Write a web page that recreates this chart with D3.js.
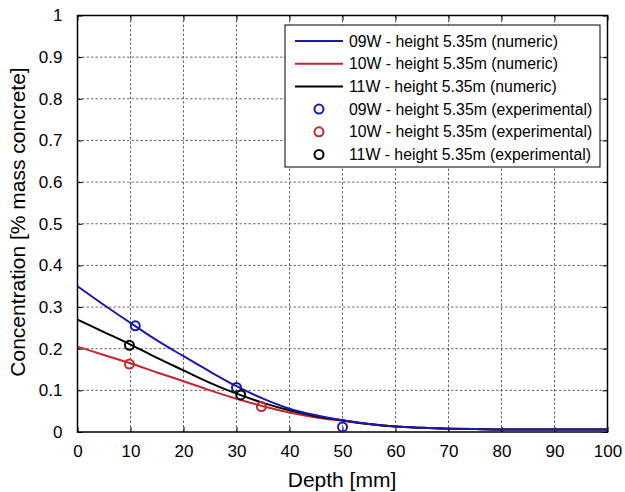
<!DOCTYPE html>
<html>
<head>
<meta charset="utf-8">
<script src="https://cdn.jsdelivr.net/npm/d3@7"></script>
<style>
body{margin:0;background:#fff;}
text{font-family:"Liberation Sans",Arial,sans-serif;}
</style>
</head>
<body>
<svg id="chart" width="625" height="492"></svg>
<script>
// numeric curves (depth in mm)
var depths = [0,5,10,15,20,25,30,35,40,45,50,55,60,65,70,75,80,90,100];
var blueNum = [0.35,0.305,0.262,0.22,0.182,0.145,0.11,0.08,0.056,0.04,0.028,0.019,0.013,0.01,0.008,0.007,0.006,0.006,0.006];
var redNum = [0.205,0.185,0.165,0.143,0.122,0.1,0.08,0.062,0.047,0.035,0.027,0.019,0.013,0.01,0.008,0.007,0.006,0.006,0.006];
var blackNum = [0.27,0.24,0.21,0.178,0.148,0.118,0.092,0.07,0.052,0.038,0.028,0.019,0.013,0.01,0.008,0.007,0.006,0.006,0.006];

// experimental points
var blueExpX = [10.9,30,50], blueExpY = [0.255,0.107,0.012];
var redExpX = [9.8,34.7], redExpY = [0.163,0.061];
var blackExpX = [9.8,30.8], blackExpY = [0.208,0.089];

var xTicks = [0,10,20,30,40,50,60,70,80,90,100];
var yTicks = [0,0.1,0.2,0.3,0.4,0.5,0.6,0.7,0.8,0.9,1];

var legendLabels = ["09W - height 5.35m (numeric)","10W - height 5.35m (numeric)","11W - height 5.35m (numeric)",
  "09W - height 5.35m (experimental)","10W - height 5.35m (experimental)","11W - height 5.35m (experimental)"];
var colBlue = "#1a1aa8", colRed = "#c4262e", colBlack = "#000";

var svg = d3.select("#chart");
var margin = {top: 15.5, right: 17.5, bottom: 60, left: 77.5};
var width = 625 - margin.left - margin.right;
var height = 432 - margin.top;
var g = svg.append("g").attr("transform","translate("+margin.left+","+margin.top+")");

var x = d3.scaleLinear().domain([0,100]).range([0,width]);
var y = d3.scaleLinear().domain([0,1]).range([height,0]);

// grid
g.append("g").selectAll("line").data(xTicks.slice(1,-1)).enter().append("line")
  .attr("x1",function(d){return x(d);}).attr("x2",function(d){return x(d);})
  .attr("y1",0).attr("y2",height)
  .attr("stroke","#444").attr("stroke-width",0.8).attr("stroke-dasharray","2.5,2");
g.append("g").selectAll("line").data(yTicks.slice(1,-1)).enter().append("line")
  .attr("y1",function(d){return y(d);}).attr("y2",function(d){return y(d);})
  .attr("x1",0).attr("x2",width)
  .attr("stroke","#444").attr("stroke-width",0.8).attr("stroke-dasharray","2.5,2");

// axes (ticks inside, MATLAB style)
function styleAxis(sel){
  sel.select(".domain").remove();
  sel.selectAll("line").attr("stroke","#000");
  sel.selectAll("text").attr("font-size",17).attr("fill","#000");
}
g.append("g").attr("transform","translate(0,"+height+")")
  .call(d3.axisBottom(x).tickValues(xTicks).tickSizeInner(-5).tickPadding(13).tickFormat(d3.format("d")))
  .call(styleAxis);
g.append("g")
  .call(d3.axisTop(x).tickValues(xTicks).tickSizeInner(-5).tickFormat(""))
  .call(styleAxis);
g.append("g")
  .call(d3.axisLeft(y).tickValues(yTicks).tickSizeInner(-5).tickPadding(15).tickFormat(function(d){return d3.format("")(d);}))
  .call(styleAxis);
g.append("g").attr("transform","translate("+width+",0)")
  .call(d3.axisRight(y).tickValues(yTicks).tickSizeInner(-5).tickFormat(""))
  .call(styleAxis);

g.append("rect").attr("width",width).attr("height",height)
  .attr("fill","none").attr("stroke","#000").attr("stroke-width",1.5);

// curves
var line = d3.line().curve(d3.curveMonotoneX)
  .x(function(d){return x(d[0]);}).y(function(d){return y(d[1]);});
[[redNum,colRed],[blackNum,colBlack],[blueNum,colBlue]].forEach(function(s){
  g.append("path").datum(depths.map(function(dp,i){return [dp,s[0][i]];}))
    .attr("d",line).attr("fill","none").attr("stroke",s[1]).attr("stroke-width",2);
});

// experimental markers
[[blueExpX,blueExpY,colBlue],[redExpX,redExpY,colRed],[blackExpX,blackExpY,colBlack]].forEach(function(s){
  g.append("g").selectAll("circle").data(s[0]).enter().append("circle")
    .attr("cx",function(d){return x(d);})
    .attr("cy",function(d,i){return y(s[1][i]);})
    .attr("r",4.5).attr("fill","none").attr("stroke",s[2]).attr("stroke-width",2);
});

// axis labels
svg.append("text").attr("x",342).attr("y",487).attr("text-anchor","middle")
  .attr("font-size",21).text("Depth [mm]");
svg.append("text").attr("transform","translate(25,222) rotate(-90)").attr("text-anchor","middle")
  .attr("font-size",21).text("Concentration [% mass concrete]");

// legend
var lg = svg.append("g");
lg.append("rect").attr("x",285).attr("y",25).attr("width",315).attr("height",142)
  .attr("fill","#fff").attr("stroke","#000").attr("stroke-width",1);
var legCols = [colBlue,colRed,colBlack,colBlue,colRed,colBlack];
var item = lg.selectAll("g.item").data(legendLabels).enter().append("g")
  .attr("transform",function(d,i){return "translate(0,"+(41+i*22.7)+")";});
item.filter(function(d,i){return i<3;}).append("line")
  .attr("x1",295).attr("x2",343).attr("y1",0).attr("y2",0)
  .attr("stroke",function(d,i){return legCols[i];}).attr("stroke-width",2);
item.filter(function(d,i){return i>=3;}).append("circle")
  .attr("cx",319).attr("cy",0).attr("r",4.5).attr("fill","none")
  .attr("stroke",function(d,i){return legCols[i+3];}).attr("stroke-width",2);
item.append("text").attr("x",349).attr("y",0).attr("dy","0.35em")
  .attr("font-size",15.8).text(function(d){return d;});
</script>
</body>
</html>
